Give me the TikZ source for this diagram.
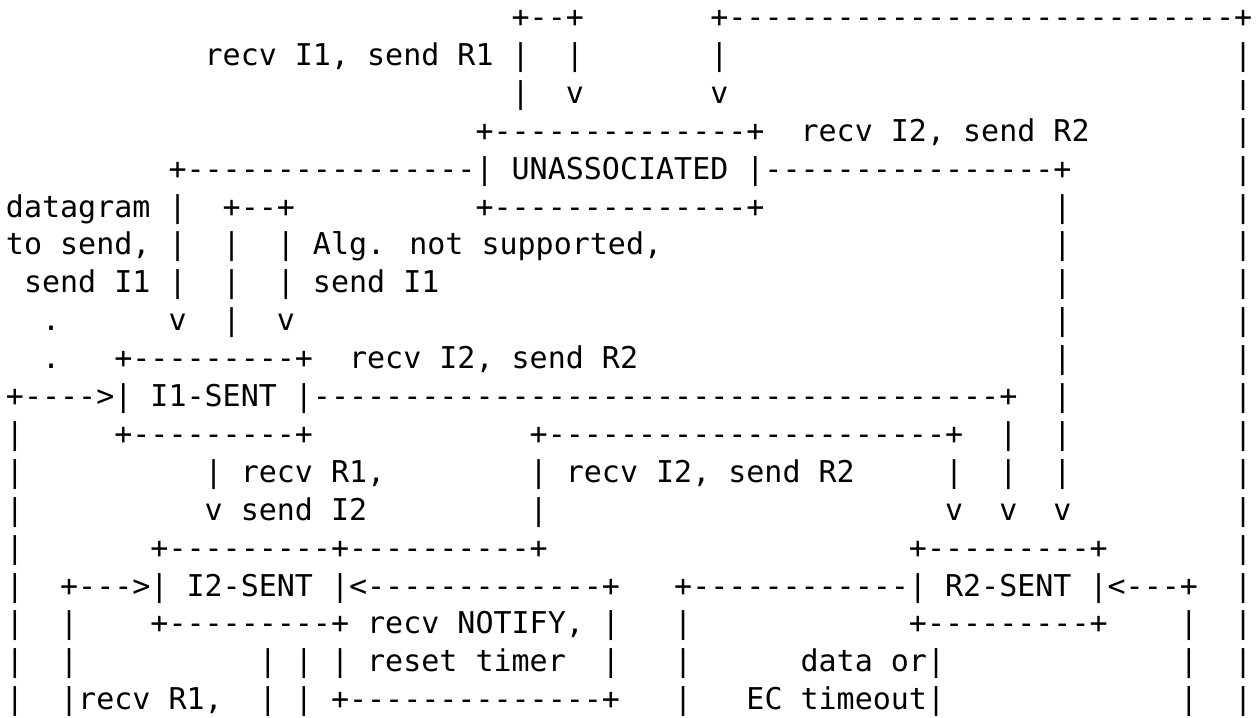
\documentclass[tikz,border=0pt]{standalone}
\usepackage{fontspec}
\newfontfamily\asciifont{DejaVu Sans Mono}[Ligatures=TeXOff,WordSpace={1,0,0}]
\tikzset{seg/.style={anchor=base west,inner sep=0pt,outer sep=0pt,text=black,
  font=\asciifont\fontsize{30}{36}\selectfont}}
\newcommand\ascseg[3]{\node[seg] (r#1c#2) at ({5.97+18.06*#2},{-27.5-37.9*(#1-1)}) {#3};}
\begin{document}
\begin{tikzpicture}[x=1pt,y=1pt]
\fill[white] (0,0) rectangle (1257,-717);
\useasboundingbox (0,0) rectangle (1257,-717);
% row 1
\ascseg{1}{28}{+--+}
\ascseg{1}{39}{+----------------------------+}
% row 2
\ascseg{2}{11}{recv I1, send R1 |}
\ascseg{2}{31}{|}
\ascseg{2}{39}{|}
\ascseg{2}{68}{|}
% row 3
\ascseg{3}{28}{|}
\ascseg{3}{31}{v}
\ascseg{3}{39}{v}
\ascseg{3}{68}{|}
% row 4
\ascseg{4}{26}{+--------------+}
\ascseg{4}{44}{recv I2, send R2}
\ascseg{4}{68}{|}
% row 5
\ascseg{5}{9}{+----------------| UNASSOCIATED |----------------+}
\ascseg{5}{68}{|}
% row 6
\ascseg{6}{0}{datagram |}
\ascseg{6}{12}{+--+}
\ascseg{6}{26}{+--------------+}
\ascseg{6}{58}{|}
\ascseg{6}{68}{|}
% row 7
\ascseg{7}{0}{to send, |}
\ascseg{7}{12}{|}
\ascseg{7}{15}{| Alg. not supported,}
\ascseg{7}{58}{|}
\ascseg{7}{68}{|}
% row 8
\ascseg{8}{1}{send I1 |}
\ascseg{8}{12}{|}
\ascseg{8}{15}{| send I1}
\ascseg{8}{58}{|}
\ascseg{8}{68}{|}
% row 9
\ascseg{9}{2}{.}
\ascseg{9}{9}{v}
\ascseg{9}{12}{|}
\ascseg{9}{15}{v}
\ascseg{9}{58}{|}
\ascseg{9}{68}{|}
% row 10
\ascseg{10}{2}{.}
\ascseg{10}{6}{+---------+}
\ascseg{10}{19}{recv I2, send R2}
\ascseg{10}{58}{|}
\ascseg{10}{68}{|}
% row 11
\ascseg{11}{0}{+---->| I1-SENT |--------------------------------------+}
\ascseg{11}{58}{|}
\ascseg{11}{68}{|}
% row 12
\ascseg{12}{0}{|}
\ascseg{12}{6}{+---------+}
\ascseg{12}{29}{+----------------------+}
\ascseg{12}{55}{|}
\ascseg{12}{58}{|}
\ascseg{12}{68}{|}
% row 13
\ascseg{13}{0}{|}
\ascseg{13}{11}{| recv R1,}
\ascseg{13}{29}{| recv I2, send R2}
\ascseg{13}{52}{|}
\ascseg{13}{55}{|}
\ascseg{13}{58}{|}
\ascseg{13}{68}{|}
% row 14
\ascseg{14}{0}{|}
\ascseg{14}{11}{v send I2}
\ascseg{14}{29}{|}
\ascseg{14}{52}{v}
\ascseg{14}{55}{v}
\ascseg{14}{58}{v}
\ascseg{14}{68}{|}
% row 15
\ascseg{15}{0}{|}
\ascseg{15}{8}{+---------+----------+}
\ascseg{15}{50}{+---------+}
\ascseg{15}{68}{|}
% row 16
\ascseg{16}{0}{|}
\ascseg{16}{3}{+--->| I2-SENT |<-------------+}
\ascseg{16}{37}{+------------| R2-SENT |<---+}
\ascseg{16}{68}{|}
% row 17
\ascseg{17}{0}{|}
\ascseg{17}{3}{|}
\ascseg{17}{8}{+---------+ recv NOTIFY, |}
\ascseg{17}{37}{|}
\ascseg{17}{50}{+---------+}
\ascseg{17}{65}{|}
\ascseg{17}{68}{|}
% row 18
\ascseg{18}{0}{|}
\ascseg{18}{3}{|}
\ascseg{18}{14}{| | | reset timer}
\ascseg{18}{33}{|}
\ascseg{18}{37}{|}
\ascseg{18}{44}{data or|}
\ascseg{18}{65}{|}
\ascseg{18}{68}{|}
% row 19
\ascseg{19}{0}{|}
\ascseg{19}{3}{|recv R1,}
\ascseg{19}{14}{| | +--------------+}
\ascseg{19}{37}{|}
\ascseg{19}{41}{EC timeout|}
\ascseg{19}{65}{|}
\ascseg{19}{68}{|}
\end{tikzpicture}
\end{document}
